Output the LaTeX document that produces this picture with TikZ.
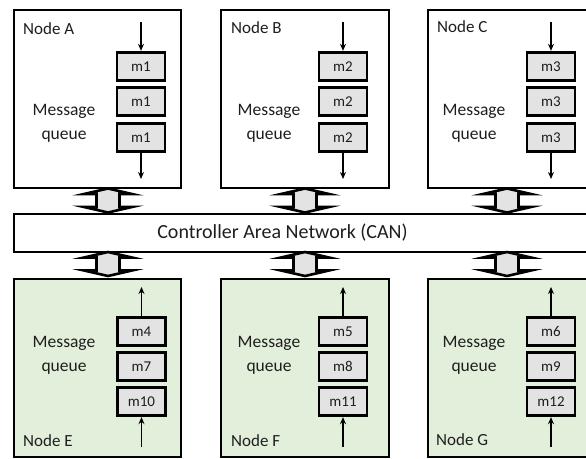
\documentclass[tikz,border=0pt]{standalone}
\usepackage{fontspec}
\setmainfont{Carlito}
\usetikzlibrary{arrows.meta}
\definecolor{greenfill}{HTML}{E2EFDA}
\definecolor{msgfill}{HTML}{E3E3E3}
\definecolor{txt}{HTML}{1E1E1E}
\tikzset{
  nodebox/.style={draw=black, line width=2pt, anchor=north west, inner sep=0pt, minimum width=#1, minimum height=178pt},
  topbox/.style={nodebox=#1, fill=white},
  botbox/.style={nodebox=#1, fill=greenfill},
  msgbox/.style={draw=black, line width=2.8pt, fill=msgfill, minimum width=48pt, minimum height=28.5pt, inner sep=0pt, text=txt, font=\fontsize{15}{17}\selectfont},
  lbl/.style={anchor=base west, inner sep=0pt, text=txt, font=\fontsize{17}{20}\selectfont},
  mq/.style={anchor=base, inner sep=0pt, text=txt, font=\fontsize{17.5}{20}\selectfont},
  flow/.style={line width=1.5pt, -{Stealth[length=7pt,width=6pt]}},
  arrowshape/.style={draw=black, line width=2.6pt, fill=msgfill, line join=miter},
  updown/.pic={\path[arrowshape] (0,-12) -- (24,-6.5) -- (11.5,-6.5) -- (11.5,6.5) -- (24,6.5) -- (0,12) -- (-24,6.5) -- (-11.5,6.5) -- (-11.5,-6.5) -- (-24,-6.5) -- cycle;}
}
\begin{document}
\begin{tikzpicture}[x=1pt,y=-1pt]
\useasboundingbox (0,0) rectangle (586,458);
\clip (0,0) rectangle (586,458);
\fill[white] (0,0) rectangle (586,458);
% top boxes
\node[topbox=167pt] (A) at (13,9) {};
\node[topbox=168pt] (B) at (220,9) {};
\node[topbox=200pt] (C) at (427,9) {};
% CAN bus
\node[draw=black, line width=2pt, fill=white, anchor=north west, minimum width=640pt, minimum height=38pt, inner sep=0pt] (CAN) at (13,213) {};
\node[text=txt, font=\fontsize{20}{24}\selectfont, inner sep=0pt] (CANlbl) at (282.5,232.5) {Controller Area Network (CAN)};
% bottom boxes
\node[botbox=167pt] (E) at (13,277.5) {};
\node[botbox=168pt] (F) at (220,277.5) {};
\node[botbox=200pt] (G) at (427,277.5) {};
% labels
\node[lbl] (lA) at (23,34) {Node A};
\node[lbl] (lB) at (231,33) {Node B};
\node[lbl] (lC) at (437,32.5) {Node C};
\node[lbl] (lE) at (23,446.5) {Node E};
\node[lbl] (lF) at (231,446.5) {Node F};
\node[lbl] (lG) at (436,445.5) {Node G};
% message queue texts
\node[mq] (qA1) at (64,115) {Message};
\node[mq] (qA2) at (64,139) {queue};
\node[mq] (qB1) at (269,115) {Message};
\node[mq] (qB2) at (269,139) {queue};
\node[mq] (qC1) at (474,115) {Message};
\node[mq] (qC2) at (474,139) {queue};
\node[mq] (qE1) at (64,347) {Message};
\node[mq] (qE2) at (64,371) {queue};
\node[mq] (qF1) at (269,347) {Message};
\node[mq] (qF2) at (269,371) {queue};
\node[mq] (qG1) at (474,347) {Message};
\node[mq] (qG2) at (474,371) {queue};
% message boxes top
\foreach \n/\x/\m in {A/141/m1,B/343/m2,C/551/m3}{
  \node[msgbox] (\n1) at (\x,66.5) {\m};
  \node[msgbox] (\n2) at (\x,101.5) {\m};
  \node[msgbox] (\n3) at (\x,137.5) {\m};
}
% message boxes bottom
\node[msgbox] (E1) at (141.5,331.5) {m4};
\node[msgbox] (E2) at (141.5,366.5) {m7};
\node[msgbox] (E3) at (141.5,401.5) {m10};
\node[msgbox] (F1) at (343,331.5) {m5};
\node[msgbox] (F2) at (343,366.5) {m8};
\node[msgbox] (F3) at (343,401.5) {m11};
\node[msgbox] (G1) at (551,331.5) {m6};
\node[msgbox] (G2) at (551,366.5) {m9};
\node[msgbox] (G3) at (551,401.5) {m12};
% flow arrows top
\foreach \n/\x in {A/141,B/343,C/551}{
  \coordinate (in\n) at (\x,22);
  \coordinate (out\n) at (\x,179);
  \draw[flow] (in\n) -- (\n1.north);
  \draw[flow] (\n3.south) -- (out\n);
}
% flow arrows bottom
\foreach \n/\x in {E/141.5,F/343,G/551}{
  \coordinate (in\n) at (\x,447);
  \coordinate (out\n) at (\x,287);
  \draw[flow] (in\n) -- (\n3.south);
  \draw[flow] (\n1.north) -- (out\n);
}
% double arrows between nodes and CAN
\pic at (108,200.5) {updown};
\pic at (305,200.5) {updown};
\pic at (507,200.5) {updown};
\pic at (108,264) {updown};
\pic at (305,264) {updown};
\pic at (507,264) {updown};
\end{tikzpicture}
\end{document}
